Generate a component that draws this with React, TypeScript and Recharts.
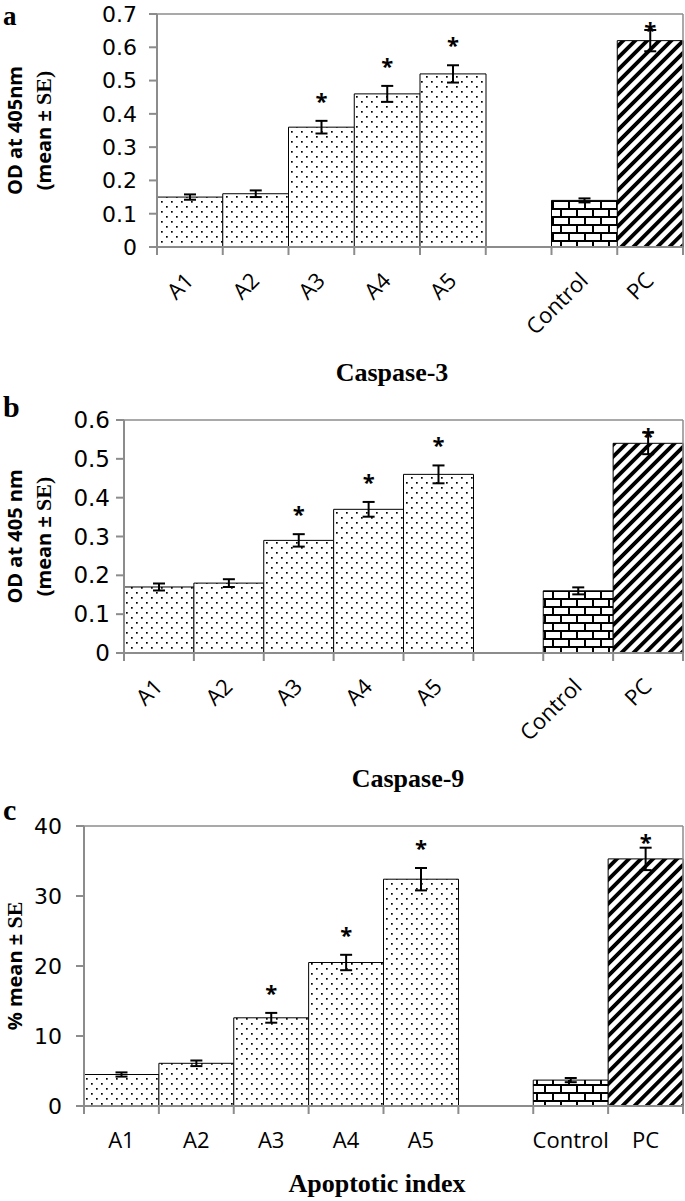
import React from "react";
import { Bar, BarChart, Cell, ErrorBar, LabelList, ReferenceLine, XAxis, YAxis } from "recharts";

const categories = ["A1", "A2", "A3", "A4", "A5", "", "Control", "PC"];
const fillOf = ["dots", "dots", "dots", "dots", "dots", "dots", "brick", "hatch"];
const significant = [false, false, true, true, true, false, false, true];

const caspase3 = [0.15, 0.16, 0.36, 0.46, 0.52, null, 0.14, 0.62];
const caspase3Se = [0.008, 0.01, 0.019, 0.024, 0.026, null, 0.006, 0.032];
const caspase9 = [0.17, 0.18, 0.29, 0.37, 0.46, null, 0.16, 0.54];
const caspase9Se = [0.009, 0.01, 0.016, 0.019, 0.023, null, 0.009, 0.028];
const apoptotic = [4.5, 6.1, 12.6, 20.5, 32.4, null, 3.7, 35.3];
const apoptoticSe = [0.3, 0.4, 0.7, 1.1, 1.6, null, 0.3, 1.6];

const ticks3 = [0, 0.1, 0.2, 0.3, 0.4, 0.5, 0.6, 0.7];
const ticks9 = [0, 0.1, 0.2, 0.3, 0.4, 0.5, 0.6];
const ticksPct = [0, 10, 20, 30, 40];

const GRAY = "#8c8c8c";
const SANS = "'Open Sans', sans-serif";
const WIDE = "'DejaVu Sans', sans-serif";
const SERIF = "'Liberation Serif', serif";

type PanelProps = {
  top: number;
  height: number;
  yWidth: number;
  xHeight: number;
  values: (number | null)[];
  errors: (number | null)[];
  yTicks: number[];
  slanted: boolean;
  tickGap: number;
  yFont: number;
};

function Panel({ top, height, yWidth, xHeight, values, errors, yTicks, slanted, tickGap, yFont }: PanelProps) {
  const plotTop = 14;
  const data = categories.map((name, i) => ({ name, value: values[i], se: errors[i] }));
  const yMax = yTicks[yTicks.length - 1];

  // asterisk above the error bar, kept inside the plot area
  const star = (p: any) => {
    const i = categories.indexOf(p.value);
    const vb = p.viewBox && p.viewBox.x != null ? p.viewBox : p;
    if (i < 0 || !significant[i] || values[i] == null) return null;
    const errTop = vb.y - ((errors[i] as number) * vb.height) / (values[i] as number);
    const cy = Math.max(errTop - 24, plotTop + 12);
    return (
      <text key={`s${i}`} x={vb.x + vb.width / 2} y={cy + 12} textAnchor="middle" fontSize={22} fontWeight="bold" fontFamily={SANS} fill="#000">
        *
      </text>
    );
  };

  const tick = (p: any) => {
    const { x, y, payload, index } = p;
    const half = payload.offset ?? 0;
    return (
      <g key={`t${index}`}>
        <line x1={x - half} x2={x - half} y1={y} y2={y + 8} stroke={GRAY} strokeWidth={2} />
        {index === categories.length - 1 && (
          <line x1={x + half} x2={x + half} y1={y} y2={y + 8} stroke={GRAY} strokeWidth={2} />
        )}
        {slanted ? (
          <text x={x + 5} y={y + 35} textAnchor="end" fontSize={22} fontFamily={SANS} fill="#000" transform={`rotate(-45 ${x + 5} ${y + 35})`}>
            {payload.value}
          </text>
        ) : (
          <text x={x} y={y + 42} textAnchor="middle" fontSize={22} fontFamily={SANS} fill="#000">
            {payload.value}
          </text>
        )}
      </g>
    );
  };

  return (
    <div style={{ position: "absolute", left: 0, top, width: 685, height }}>
      <BarChart width={685} height={height} data={data} margin={{ top: plotTop, right: 2, bottom: 0, left: 0 }} barCategoryGap={0} barGap={0}>
        <XAxis
          dataKey="name"
          interval={0}
          height={xHeight}
          tickSize={0}
          tickMargin={0}
          tickLine={false}
          axisLine={{ stroke: GRAY, strokeWidth: 2 }}
          tick={tick}
        />
        <YAxis
          width={yWidth}
          domain={[0, yMax]}
          ticks={yTicks}
          allowDataOverflow
          tickSize={8}
          tickMargin={tickGap}
          axisLine={{ stroke: GRAY, strokeWidth: 2 }}
          tickLine={{ stroke: GRAY, strokeWidth: 2 }}
          tick={{ fontSize: yFont, fill: "#000", fontFamily: WIDE }}
        />
        <ReferenceLine y={yMax} stroke={GRAY} strokeWidth={1.5} />
        <ReferenceLine x="PC" position="end" stroke={GRAY} strokeWidth={1.5} />
        <Bar dataKey="value" stroke="#000" strokeWidth={1} isAnimationActive={false}>
          {data.map((d, i) => (
            <Cell key={d.name + i} fill={`url(#${fillOf[i]})`} />
          ))}
          <ErrorBar dataKey="se" direction="y" width={6} stroke="#000" strokeWidth={2} isAnimationActive={false} />
          <LabelList dataKey="name" content={star} />
        </Bar>
      </BarChart>
    </div>
  );
}

function YTitle({ x, cy, main, serifPart }: { x: number; cy: number; main: string; serifPart?: string }) {
  return (
    <text transform={`translate(${x},${cy}) rotate(-90)`} textAnchor="middle" fontSize={20} fontWeight="bold" fontFamily={SANS} fill="#000">
      {main}
      {serifPart && (
        <tspan fontFamily={SERIF} fontSize={22}>
          {serifPart}
        </tspan>
      )}
    </text>
  );
}

export default function App() {
  return (
    <div style={{ position: "absolute", left: 0, top: 0, width: 685, height: 1201, background: "#fff", fontFamily: SANS }}>
      <svg width={685} height={1201} style={{ position: "absolute", left: 0, top: 0 }}>
        <defs>
          <pattern id="dots" width="10" height="10" patternUnits="userSpaceOnUse">
            <rect width="10" height="10" fill="#fff" />
            <rect x="1" y="1" width="1.7" height="1.7" fill="#000" />
            <rect x="6" y="6" width="1.7" height="1.7" fill="#000" />
          </pattern>
          <pattern id="brick" width="16" height="16" patternUnits="userSpaceOnUse">
            <rect width="16" height="16" fill="#fff" />
            <rect x="0" y="0" width="16" height="2" fill="#000" />
            <rect x="0" y="8" width="16" height="2" fill="#000" />
            <rect x="0" y="0" width="2" height="8" fill="#000" />
            <rect x="8" y="8" width="2" height="8" fill="#000" />
          </pattern>
          <pattern id="hatch" width="8.5" height="8.5" patternUnits="userSpaceOnUse" patternTransform="rotate(45)">
            <rect width="8.5" height="8.5" fill="#fff" />
            <rect x="0" y="0" width="3.8" height="8.5" fill="#000" />
          </pattern>
        </defs>
        <g fontFamily={SERIF} fontWeight="bold" fill="#000">
          <text x={3} y={25} fontSize={27}>a</text>
          <text x={3} y={417} fontSize={30}>b</text>
          <text x={3} y={820} fontSize={30}>c</text>
          <text x={392} y={381} fontSize={26} textAnchor="middle">Caspase-3</text>
          <text x={408} y={787} fontSize={26} textAnchor="middle">Caspase-9</text>
          <text x={377} y={1192} fontSize={26} textAnchor="middle">Apoptotic index</text>
        </g>
        <YTitle x={22} cy={130.5} main="OD at 405nm" />
        <YTitle x={51} cy={130.5} main="(mean ± " serifPart="SE)" />
        <YTitle x={22} cy={536.5} main="OD at 405 nm" />
        <YTitle x={51} cy={536.5} main="(mean ± " serifPart="SE)" />
        <YTitle x={22} cy={966} main="% mean ± " serifPart="SE" />
      </svg>
      <Panel top={0} height={345} yWidth={157} xHeight={98} values={caspase3} errors={caspase3Se} yTicks={ticks3} slanted tickGap={12} yFont={22} />
      <Panel top={406} height={345} yWidth={124} xHeight={98} values={caspase9} errors={caspase9Se} yTicks={ticks9} slanted tickGap={6} yFont={23} />
      <Panel top={812} height={344} yWidth={84} xHeight={50} values={apoptotic} errors={apoptoticSe} yTicks={ticksPct} slanted={false} tickGap={14} yFont={22} />
    </div>
  );
}
